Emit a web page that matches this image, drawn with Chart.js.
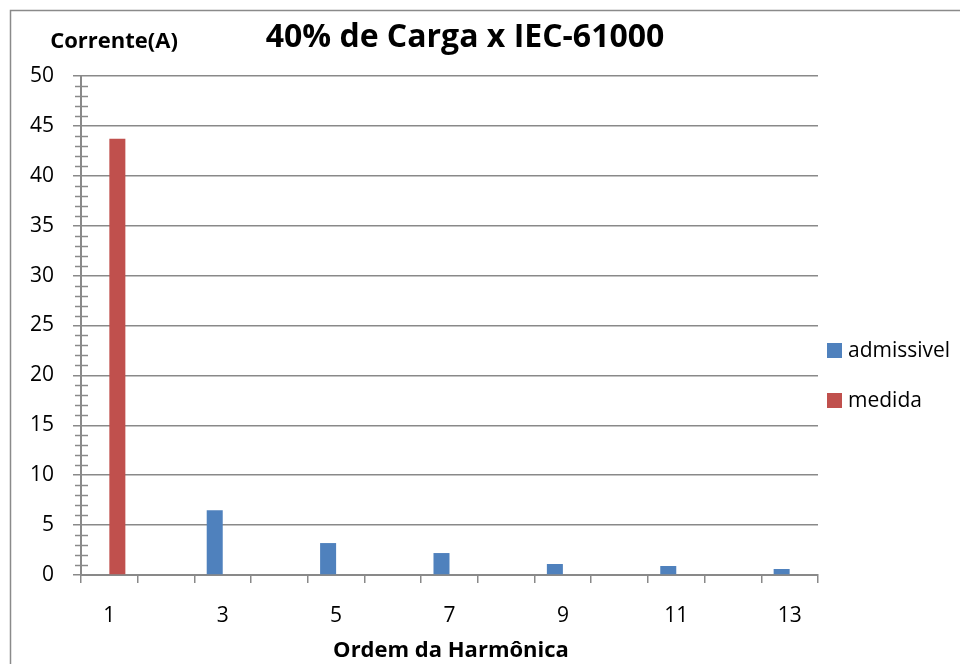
<!DOCTYPE html>
<html>
<head>
<meta charset="utf-8">
<script src="https://cdn.jsdelivr.net/npm/chart.js@4/dist/chart.umd.min.js"></script>
<style>
  html, body { margin: 0; background: #fff; }
  #wrap { width: 960px; height: 664px; }
</style>
</head>
<body>
<div id="wrap"><canvas id="harm-chart" width="960" height="664"></canvas></div>
<script>
const ordens = ["1", "2", "3", "4", "5", "6", "7", "8", "9", "10", "11", "12", "13"];
const admissivel = [null, null, 6.5, null, 3.2, null, 2.2, null, 1.1, null, 0.9, null, 0.6];
const medida = [43.7, null, null, null, null, null, null, null, null, null, null, null, null];
const yMax = 50;
const yStep = 5;
const minorStep = 1;

const gray = "#898989";
const font = "'Open Sans', sans-serif";

// moldura, títulos, legenda e marcas menores do eixo Y
const decorPlugin = {
  id: "decor",
  afterDraw(chart) {
    const ctx = chart.ctx;
    const y = chart.scales.y;
    const area = chart.chartArea;
    ctx.save();

    // marcas menores
    ctx.strokeStyle = gray;
    ctx.lineWidth = 1.5;
    for (let v = 0; v <= yMax; v += minorStep) {
      if (v % yStep === 0) continue;
      const py = Math.round(y.getPixelForValue(v)) + 0.5;
      ctx.beginPath();
      ctx.moveTo(area.left - 6, py);
      ctx.lineTo(area.left + 7, py);
      ctx.stroke();
    }

    // moldura
    ctx.lineWidth = 1.5;
    ctx.strokeStyle = "#8a8a8a";
    ctx.strokeRect(10.5, 10.5, 2000, 2000);

    ctx.fillStyle = "#000";
    ctx.textAlign = "center";
    ctx.textBaseline = "alphabetic";
    ctx.font = "bold 32px " + font;
    ctx.fillText("40% de Carga x IEC-61000", 465, 47);
    ctx.font = "bold 22px " + font;
    ctx.fillText("Corrente(A)", 114, 48);
    ctx.fillText("Ordem da Harmônica", 451, 657);

    // legenda
    ctx.textAlign = "left";
    ctx.font = "21px " + font;
    chart.data.datasets.forEach((ds, i) => {
      const by = 350 + i * 50;
      ctx.fillStyle = ds.backgroundColor;
      ctx.fillRect(827, by - 7, 15, 15);
      ctx.fillStyle = "#000";
      ctx.fillText(ds.label, 848, by + 7);
    });
    ctx.restore();
  },
};

new Chart(document.getElementById("harm-chart"), {
  type: "bar",
  data: {
    labels: ordens,
    datasets: [
      { label: "admissivel", data: admissivel, backgroundColor: "#4F81BD" },
      { label: "medida", data: medida, backgroundColor: "#C0504D" },
    ],
  },
  options: {
    responsive: false,
    devicePixelRatio: 1,
    animation: false,
    layout: { padding: { left: 0, top: 76, right: 142, bottom: 0 } },
    datasets: { bar: { categoryPercentage: 0.565, barPercentage: 1 } },
    plugins: {
      legend: { display: false },
      title: { display: false },
      tooltip: { enabled: false },
    },
    scales: {
      x: {
        offset: true,
        afterFit: (s) => { s.height = 89; },
        grid: {
          offset: true,
          drawOnChartArea: false,
          tickLength: 8,
          color: gray,
          lineWidth: 1.5,
        },
        border: { color: gray, width: 2 },
        ticks: {
          autoSkip: false,
          maxRotation: 0,
          padding: 20,
          color: "#000",
          font: { family: font, size: 21 },
          callback: (v, i) => (i % 2 === 0 ? ordens[i] : ""),
        },
      },
      y: {
        min: 0,
        max: yMax,
        afterFit: (s) => { s.width = 81; },
        grid: { color: gray, lineWidth: 1.5, tickLength: 8 },
        border: { color: gray, width: 2 },
        ticks: {
          stepSize: yStep,
          padding: 19,
          color: "#000",
          font: { family: font, size: 21 },
        },
      },
    },
  },
  plugins: [decorPlugin],
});
</script>
</body>
</html>
